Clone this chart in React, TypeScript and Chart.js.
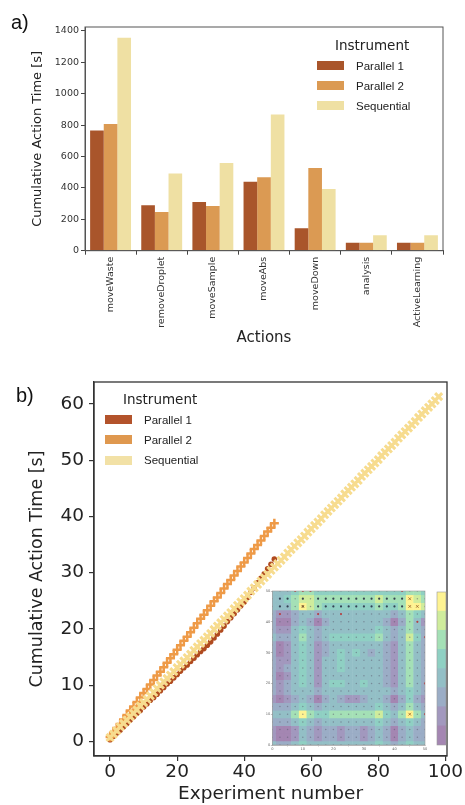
import React, { useEffect, useRef } from "react";
import { Chart, registerables } from "chart.js";

Chart.register(...registerables);

// ---------------- data: panel a ----------------
const ACTIONS = ["moveWaste", "removeDroplet", "moveSample", "moveAbs", "moveDown", "analysis", "ActiveLearning"];
const SERIES_NAMES = ["Parallel 1", "Parallel 2", "Sequential"];
const PARALLEL1_TIME = [765, 289, 310, 440, 143, 51, 51];
const PARALLEL2_TIME = [807, 247, 285, 468, 527, 51, 51];
const SEQUENTIAL_TIME = [1357, 491, 559, 867, 393, 98, 98];
const BAR_Y_TICKS = [0, 200, 400, 600, 800, 1000, 1200, 1400];

// ---------------- data: panel b ----------------
const CUM_PARALLEL1 = [
  0.3, 0.9, 1.5, 2.0, 2.6, 3.2, 3.8, 4.4, 5.0, 5.5,
  6.1, 6.7, 7.3, 7.8, 8.4, 9.0, 9.6, 10.2, 10.7, 11.3,
  11.9, 12.5, 13.1, 13.6, 14.2, 14.8, 15.4, 16.0, 16.5, 17.1,
  17.7, 18.4, 19.1, 19.8, 20.5, 21.3, 22.0, 22.7, 23.4, 24.1,
  24.8, 25.6, 26.5, 27.3, 28.2, 29.0, 29.8, 30.7, 31.5, 32.4,
];
const CUM_PARALLEL2 = [
  0.8, 1.6, 2.4, 3.1, 3.9, 4.7, 5.5, 6.2, 7.0, 7.8,
  8.6, 9.3, 10.1, 10.9, 11.7, 12.4, 13.2, 14.0, 14.8, 15.5,
  16.3, 17.1, 17.9, 18.6, 19.4, 20.2, 21.0, 21.8, 22.5, 23.3,
  24.1, 24.9, 25.6, 26.4, 27.2, 28.0, 28.7, 29.5, 30.3, 31.1,
  31.8, 32.6, 33.4, 34.2, 34.9, 35.7, 36.5, 37.3, 38.0, 38.8,
];
const CUM_SEQUENTIAL = [
  0.7, 1.3, 1.9, 2.6, 3.2, 3.8, 4.4, 5.0, 5.6, 6.3,
  6.9, 7.5, 8.1, 8.7, 9.4, 10.0, 10.6, 11.2, 11.8, 12.4,
  13.1, 13.7, 14.3, 14.9, 15.5, 16.2, 16.8, 17.4, 18.0, 18.6,
  19.2, 19.9, 20.5, 21.1, 21.7, 22.3, 22.9, 23.6, 24.2, 24.8,
  25.4, 26.0, 26.7, 27.3, 27.9, 28.5, 29.1, 29.7, 30.4, 31.0,
  31.6, 32.2, 32.8, 33.5, 34.1, 34.7, 35.3, 35.9, 36.5, 37.2,
  37.8, 38.4, 39.0, 39.6, 40.3, 40.9, 41.5, 42.1, 42.7, 43.3,
  44.0, 44.6, 45.2, 45.8, 46.4, 47.1, 47.7, 48.3, 48.9, 49.5,
  50.1, 50.8, 51.4, 52.0, 52.6, 53.2, 53.9, 54.5, 55.1, 55.7,
  56.3, 56.9, 57.6, 58.2, 58.8, 59.4, 60.0, 60.6, 61.3,
];
const SCATTER_X_TICKS = [0, 20, 40, 60, 80, 100];
const SCATTER_Y_TICKS = [0, 10, 20, 30, 40, 50, 60];

// ---------------- data: inset contour (levels 0..7, rows from y=50 down to y=0) ----------------
const INSET_GRID = [0, 2.5, 5, 7.5, 10, 12.5, 15, 17.5, 20, 22.5, 25, 27.5, 30, 32.5, 35, 37.5, 40, 42.5, 45, 47.5, 50];
const INSET_LEVEL_ROWS = [
  "333455444444444444554",
  "334566555555556555765",
  "333576544444445445776",
  "211233233333333323543",
  "200232023333333202531",
  "211343233333334323532",
  "322353234444445323642",
  "201343123333333213532",
  "201343123434323213532",
  "211343133433333213532",
  "212343133433333213532",
  "201343133333333213532",
  "212343134433433213532",
  "212333233333333323432",
  "101232023211233202421",
  "222343233333334323532",
  "333575445555556435753",
  "222343233333334323432",
  "100132122122123202322",
  "100132122122123202322",
  "322343333333334323433",
];
const INSET_TICKS = [0, 10, 20, 30, 40, 50];
const INSET_DARK_ROWS_Y = [45, 47.5];
const INSET_DARK_COLS_X = [2.5, 5, 10, 15, 17.5, 20, 22.5, 25, 27.5, 30, 32.5, 35, 37.5, 40, 42.5];
const INSET_RED_X = [7.5, 10, 12.5, 2.5, 15, 22.5, 42.5, 50, 50, 47.5, 50];
const INSET_RED_Y = [50, 50, 50, 42.5, 42.5, 42.5, 50, 35, 10, 40, 20];
const INSET_MARK_X = [10, 45, 47.5, 45, 45];
const INSET_MARK_Y = [45, 47.5, 45, 45, 10];
const COLORBAR_LEVELS = [0, 1, 2, 3, 4, 5, 6, 7];

// ---------------- styles ----------------
const BAR_COLORS = ["#a9552b", "#db9a53", "#efe0a3"];
const SCAT_COLORS = ["#b04a1f", "#ee9a47", "#f7dc8f"];
const LEGEND_B_COLORS = ["#b3532b", "#df984f", "#f2e1a6"];
const LEVEL_COLORS = ["#a486b2", "#a298be", "#9badc6", "#93bfc6", "#8fd0c3", "#a4e0b6", "#cfec9c", "#fef392"];

const framePlugin = {
  id: "frame",
  afterDatasetsDraw(chart: any, _a: any, opts: any) {
    const { ctx, chartArea: a } = chart;
    ctx.save();
    ctx.strokeStyle = opts.color || "#444";
    ctx.lineWidth = opts.width || 1;
    ctx.strokeRect(a.left, a.top, a.right - a.left, a.bottom - a.top);
    ctx.restore();
  },
};

const fixedTicks = (vals: number[]) => (scale: any) => {
  scale.ticks = vals.map((v) => ({ value: v }));
};

export default function App() {
  const barRef = useRef<HTMLCanvasElement>(null);
  const scatRef = useRef<HTMLCanvasElement>(null);
  const insetRef = useRef<HTMLCanvasElement>(null);
  const cbarRef = useRef<HTMLCanvasElement>(null);

  useEffect(() => {
    const charts: Chart[] = [];

    // ---------- panel a ----------
    charts.push(
      new Chart(barRef.current!, {
        type: "bar",
        data: {
          labels: ACTIONS,
          datasets: [PARALLEL1_TIME, PARALLEL2_TIME, SEQUENTIAL_TIME].map((d, i) => ({
            label: SERIES_NAMES[i],
            data: d,
            backgroundColor: BAR_COLORS[i],
            borderWidth: 0,
            categoryPercentage: 0.8,
            barPercentage: 1,
          })),
        },
        options: {
          animation: false,
          responsive: false,
          devicePixelRatio: 1,
          layout: { padding: { left: 0, top: 27, right: 22, bottom: 0 } },
          plugins: { legend: { display: false }, tooltip: { enabled: false }, frame: { color: "#555", width: 1 } } as any,
          scales: {
            x: {
              grid: { drawOnChartArea: false, tickLength: 4, color: "#444" },
              border: { color: "#555" },
              ticks: {
                minRotation: 90,
                maxRotation: 90,
                autoSkip: false,
                padding: 2,
                color: "#333",
                font: { family: "DejaVu Sans", size: 9.5 },
              },
              title: {
                display: true,
                text: "Actions",
                color: "#222",
                font: { family: "DejaVu Sans", size: 15 },
                padding: { top: 0, bottom: 13 },
              },
              afterFit: (s: any) => {
                s.height = 109.3;
              },
            },
            y: {
              min: 0,
              max: 1425,
              afterBuildTicks: fixedTicks(BAR_Y_TICKS),
              grid: { drawOnChartArea: false, tickLength: 4, color: "#444" },
              border: { color: "#555" },
              ticks: {
                padding: 2,
                color: "#333",
                font: { family: "DejaVu Sans", size: 9.5 },
                callback: (v: any) => String(v),
              },
              title: {
                display: true,
                text: "Cumulative Action Time [s]",
                color: "#222",
                font: { family: "DejaVu Sans", size: 13 },
                padding: { top: 30, bottom: 0 },
              },
              afterFit: (s: any) => {
                s.width = 85;
              },
            },
          },
        } as any,
        plugins: [framePlugin],
      })
    );

    // ---------- panel b ----------
    const toPts = (arr: number[]) => arr.map((y, i) => ({ x: i, y }));
    charts.push(
      new Chart(scatRef.current!, {
        type: "scatter",
        data: {
          datasets: [
            {
              label: SERIES_NAMES[2],
              data: toPts(CUM_SEQUENTIAL),
              pointStyle: "crossRot",
              pointRadius: 5,
              pointBorderWidth: 3,
              pointBorderColor: SCAT_COLORS[2],
              pointBackgroundColor: SCAT_COLORS[2],
              order: 0,
            },
            {
              label: SERIES_NAMES[1],
              data: toPts(CUM_PARALLEL2),
              pointStyle: "cross",
              pointRadius: 4.5,
              pointBorderWidth: 2.5,
              pointBorderColor: SCAT_COLORS[1],
              pointBackgroundColor: SCAT_COLORS[1],
              order: 1,
            },
            {
              label: SERIES_NAMES[0],
              data: toPts(CUM_PARALLEL1),
              pointStyle: "circle",
              pointRadius: 2.8,
              pointBorderWidth: 0,
              pointBackgroundColor: SCAT_COLORS[0],
              order: 2,
            },
          ] as any,
        },
        options: {
          animation: false,
          responsive: false,
          devicePixelRatio: 1,
          layout: { padding: { left: 0, top: 22, right: 18, bottom: 0 } },
          plugins: { legend: { display: false }, tooltip: { enabled: false }, frame: { color: "#333", width: 1.3 } } as any,
          scales: {
            x: {
              type: "linear",
              min: -4.8,
              max: 100.5,
              afterBuildTicks: fixedTicks(SCATTER_X_TICKS),
              grid: { drawOnChartArea: false, tickLength: 5, color: "#333", lineWidth: 1.2 },
              border: { color: "#333", width: 1.3 },
              ticks: {
                padding: 0,
                color: "#222",
                font: { family: "DejaVu Sans", size: 18.5 },
                callback: (v: any) => String(v),
              },
              title: {
                display: true,
                text: "Experiment number",
                color: "#222",
                font: { family: "DejaVu Sans", size: 18.5 },
                padding: { top: 0, bottom: 0 },
              },
              afterFit: (s: any) => {
                s.height = 49;
              },
            },
            y: {
              type: "linear",
              min: -2.6,
              max: 63.9,
              afterBuildTicks: fixedTicks(SCATTER_Y_TICKS),
              grid: { drawOnChartArea: false, tickLength: 5, color: "#333", lineWidth: 1.2 },
              border: { color: "#333", width: 1.3 },
              ticks: {
                padding: 5,
                color: "#222",
                font: { family: "DejaVu Sans", size: 18.5 },
                callback: (v: any) => String(v),
              },
              title: {
                display: true,
                text: "Cumulative Action Time [s]",
                color: "#222",
                font: { family: "DejaVu Sans", size: 17.5 },
                padding: { top: 27, bottom: 0 },
              },
              afterFit: (s: any) => {
                s.width = 94;
              },
            },
          },
        } as any,
        plugins: [framePlugin],
      })
    );

    // ---------- inset contour ----------
    const n = INSET_GRID.length;
    const cellDatasets = INSET_LEVEL_ROWS.map((row, r) => {
      const yv = INSET_GRID[n - 1 - r];
      const cols = row.split("").map((d) => LEVEL_COLORS[Number(d)]);
      return {
        type: "bar",
        data: INSET_GRID.map((xv) => ({ x: xv, y: [yv - 1.25, yv + 1.25] })),
        backgroundColor: cols,
        borderColor: cols,
        borderWidth: 0.6,
        borderSkipped: false,
        grouped: false,
        barPercentage: 1,
        categoryPercentage: 1,
        order: 5,
      };
    });
    const gridDots: { x: number; y: number }[] = [];
    INSET_GRID.forEach((yv) => INSET_GRID.forEach((xv) => gridDots.push({ x: xv, y: yv })));
    const darkDots: { x: number; y: number }[] = [];
    INSET_DARK_ROWS_Y.forEach((yv) => INSET_DARK_COLS_X.forEach((xv) => darkDots.push({ x: xv, y: yv })));
    const redDots = INSET_RED_X.map((x, i) => ({ x, y: INSET_RED_Y[i] }));
    const markDots = INSET_MARK_X.map((x, i) => ({ x, y: INSET_MARK_Y[i] }));

    const insetTickFont = { family: "DejaVu Sans", size: 3.6 };
    charts.push(
      new Chart(insetRef.current!, {
        type: "bar",
        data: {
          datasets: [
            ...cellDatasets,
            { type: "scatter", data: gridDots, pointRadius: 0.75, pointBorderWidth: 0, pointBackgroundColor: "rgba(95,95,115,0.55)", order: 2 },
            { type: "scatter", data: darkDots, pointRadius: 1.1, pointBorderWidth: 0, pointBackgroundColor: "rgba(40,50,70,0.85)", order: 1 },
            { type: "scatter", data: redDots, pointRadius: 1.1, pointBorderWidth: 0, pointBackgroundColor: "rgba(190,50,50,0.85)", order: 1 },
            { type: "scatter", data: markDots, pointStyle: "crossRot", pointRadius: 2, pointBorderWidth: 0.8, pointBorderColor: "rgba(170,110,40,0.9)", order: 0 },
          ] as any,
        },
        options: {
          animation: false,
          responsive: false,
          devicePixelRatio: 1,
          layout: { padding: { left: 0, top: 6, right: 5, bottom: 0 } },
          plugins: { legend: { display: false }, tooltip: { enabled: false }, frame: { color: "#9a9a9a", width: 0.6 } } as any,
          scales: {
            x: {
              type: "linear",
              min: 0,
              max: 50,
              offset: false,
              afterBuildTicks: fixedTicks(INSET_TICKS),
              grid: { drawOnChartArea: false, tickLength: 1.5, color: "#888", lineWidth: 0.5 },
              border: { color: "#999", width: 0.6 },
              ticks: { padding: 0.5, color: "#666", font: insetTickFont, maxRotation: 0, callback: (v: any) => String(v) },
              afterFit: (s: any) => {
                s.height = 10;
              },
            },
            y: {
              type: "linear",
              min: 0,
              max: 50,
              afterBuildTicks: fixedTicks(INSET_TICKS),
              grid: { drawOnChartArea: false, tickLength: 1.5, color: "#888", lineWidth: 0.5 },
              border: { color: "#999", width: 0.6 },
              ticks: { padding: 0.5, color: "#666", font: insetTickFont, callback: (v: any) => String(v) },
              afterFit: (s: any) => {
                s.width = 17.3;
              },
            },
          },
        } as any,
        plugins: [framePlugin],
      })
    );

    // ---------- colorbar ----------
    charts.push(
      new Chart(cbarRef.current!, {
        type: "bar",
        data: {
          labels: ["cb"],
          datasets: COLORBAR_LEVELS.map((lv) => ({
            data: [1],
            backgroundColor: LEVEL_COLORS[lv],
            borderWidth: 0,
            barPercentage: 1,
            categoryPercentage: 1,
          })),
        },
        options: {
          animation: false,
          responsive: false,
          devicePixelRatio: 1,
          layout: { padding: 1 },
          plugins: { legend: { display: false }, tooltip: { enabled: false }, frame: { color: "#999", width: 0.6 } } as any,
          scales: {
            x: { display: false, stacked: true },
            y: { display: false, stacked: true, min: 0, max: COLORBAR_LEVELS.length },
          },
        } as any,
        plugins: [framePlugin],
      })
    );

    return () => charts.forEach((c) => c.destroy());
  }, []);

  const abs = (o: React.CSSProperties): React.CSSProperties => ({ position: "absolute", ...o });
  const legendTitle: React.CSSProperties = {
    fontFamily: "DejaVu Sans",
    fontSize: 13.5,
    lineHeight: "16px",
    color: "#222",
    whiteSpace: "nowrap",
  };
  const legendLabel: React.CSSProperties = {
    fontFamily: "Liberation Sans",
    fontSize: 11.5,
    lineHeight: "14px",
    color: "#222",
    whiteSpace: "nowrap",
  };

  const legendA = SERIES_NAMES.map((name, i) => (
    <React.Fragment key={"a" + name}>
      <div style={abs({ left: 317, top: 61 + i * 20, width: 27, height: 9, background: BAR_COLORS[i] })} />
      <div style={abs({ left: 356, top: 58.5 + i * 20, ...legendLabel })}>{name}</div>
    </React.Fragment>
  ));
  const legendB = SERIES_NAMES.map((name, i) => (
    <React.Fragment key={"b" + name}>
      <div style={abs({ left: 105, top: 415 + i * 20.3, width: 27, height: 9, background: LEGEND_B_COLORS[i] })} />
      <div style={abs({ left: 144, top: 412.5 + i * 20.3, ...legendLabel })}>{name}</div>
    </React.Fragment>
  ));

  return (
    <div style={abs({ left: 0, top: 0, width: 465, height: 805, background: "#fff", overflow: "hidden" })}>
      <canvas ref={barRef} width={465} height={360} style={abs({ left: 0, top: 0 })} />
      <canvas ref={scatRef} width={465} height={445} style={abs({ left: 0, top: 360 })} />
      <canvas ref={insetRef} width={175} height={170} style={abs({ left: 255, top: 585 })} />
      <canvas ref={cbarRef} width={11} height={155} style={abs({ left: 436, top: 591 })} />

      <div style={abs({ left: 11, top: 11, fontFamily: "Liberation Sans", fontSize: 20, lineHeight: "22px", color: "#111" })}>a)</div>
      <div style={abs({ left: 16, top: 384, fontFamily: "Liberation Sans", fontSize: 20, lineHeight: "22px", color: "#111" })}>b)</div>

      <div style={abs({ left: 335, top: 37, ...legendTitle })}>Instrument</div>
      {legendA}
      <div style={abs({ left: 123, top: 391, ...legendTitle })}>Instrument</div>
      {legendB}
    </div>
  );
}
